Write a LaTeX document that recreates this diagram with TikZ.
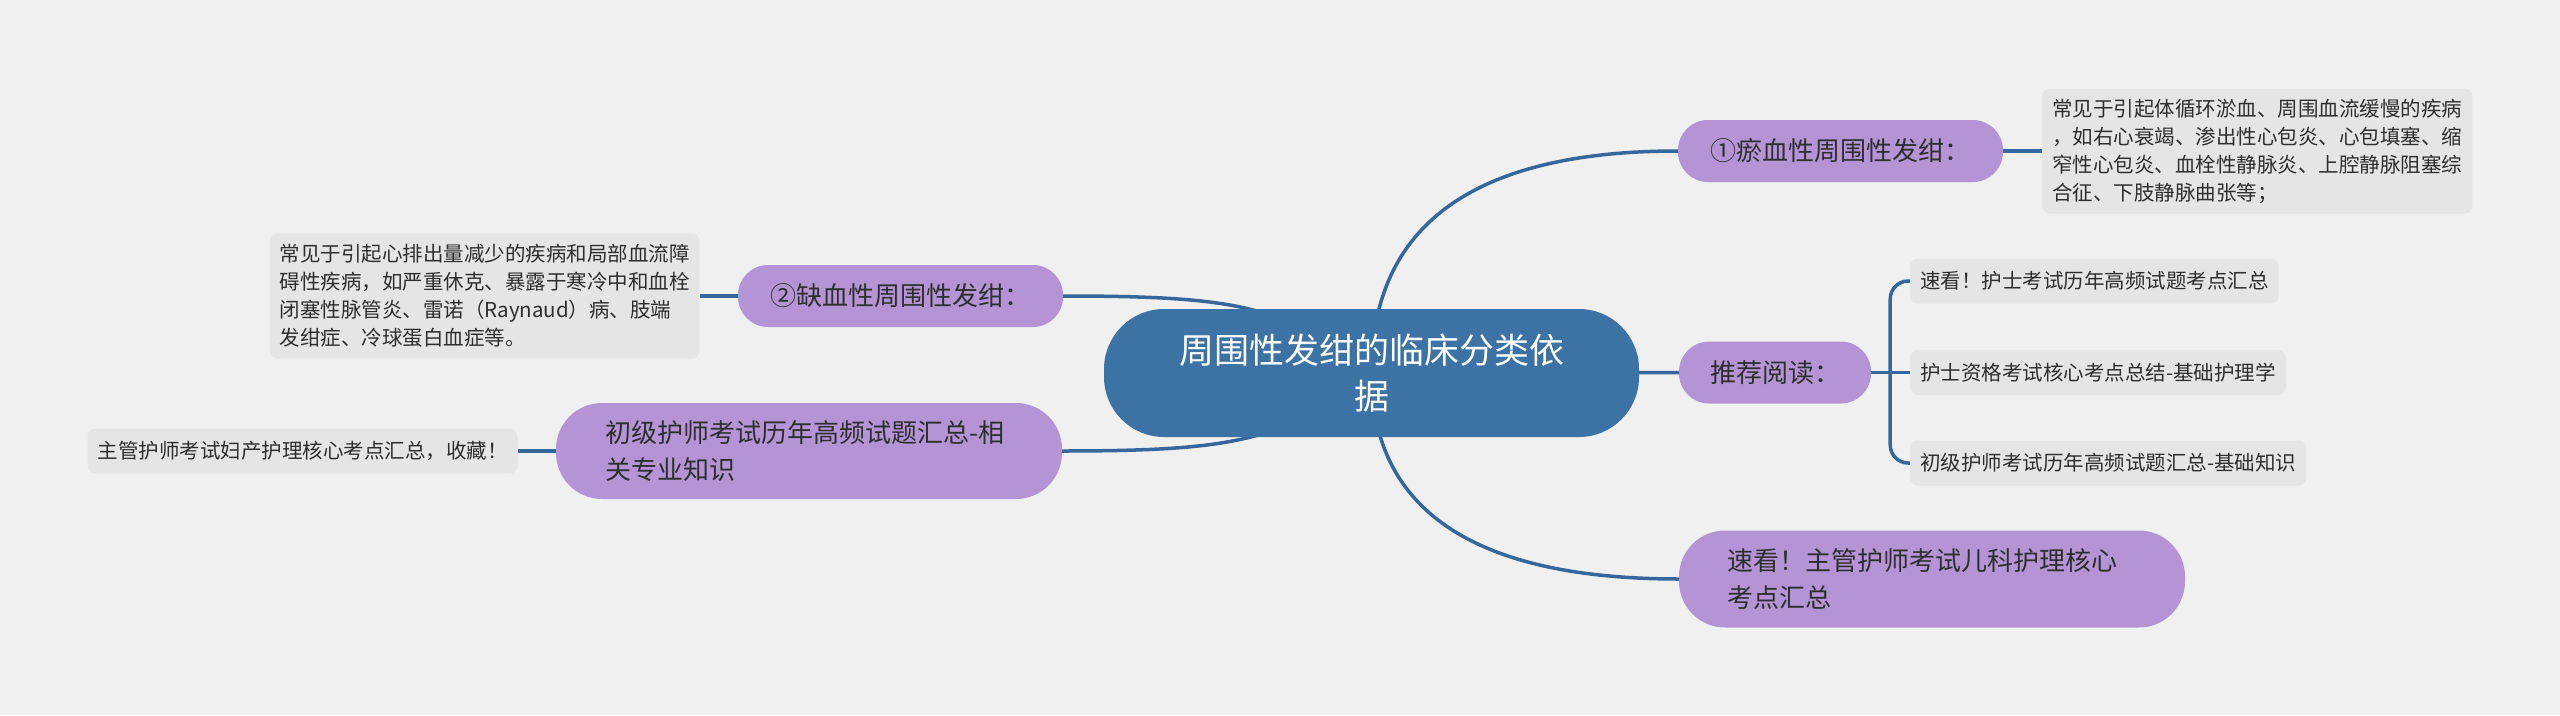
\documentclass[tikz,border=0pt]{standalone}
\usepackage{fontspec}
\setmainfont{Noto Sans CJK SC}
\usetikzlibrary{positioning,backgrounds}
\definecolor{bgcol}{HTML}{F0F0F0}
\definecolor{mainblue}{HTML}{3D72A4}
\definecolor{linecol}{HTML}{36679A}
\definecolor{topicpurple}{HTML}{B594D6}
\definecolor{leafgray}{HTML}{E5E5E5}
\definecolor{txtcol}{HTML}{2E2E2E}

\begin{document}
\begin{tikzpicture}[x=1pt,y=-1pt,node distance=38pt,
    every node/.style={text=txtcol},
    root/.style={fill=mainblue,text=white,rounded corners=60pt,align=center,
      minimum width=535pt,minimum height=128pt,font=\fontsize{35}{46}\selectfont},
    topic/.style={fill=topicpurple,rounded corners=30pt,minimum height=62pt,
      font=\fontsize{26}{37}\selectfont},
    bigtopic/.style={topic,rounded corners=46pt,align=left,minimum width=506pt},
    leaf/.style={fill=leafgray,rounded corners=8pt,inner xsep=10pt,inner ysep=9pt,
      minimum height=45pt,align=left,font=\fontsize{20.5}{28}\selectfont},
    branch/.style={draw=linecol,line width=3.5pt}]
  \useasboundingbox (0,0) rectangle (2560,715);

  \node[root] (main) at (1371.5,373) {周围性发绀的临床分类依\\据};

  \node[topic,minimum width=325pt] (c1) at (1840.5,151) {①瘀血性周围性发绀：};
  \node[leaf,minimum height=125pt,right=39pt of c1] (r0)
    {常见于引起体循环淤血、周围血流缓慢的疾病\\，如右心衰竭、渗出性心包炎、心包填塞、缩\\窄性心包炎、血栓性静脉炎、上腔静脉阻塞综\\合征、下肢静脉曲张等；};

  \node[topic,minimum width=192pt] (tj) at (1775,372.5) {推荐阅读：};
  \coordinate[right=19pt of tj] (fork);
  \node[leaf,anchor=west] (r1) at (1910,281) {速看！护士考试历年高频试题考点汇总};
  \node[leaf,anchor=west] (r2) at (1910,372.5) {护士资格考试核心考点总结-基础护理学};
  \node[leaf,anchor=west] (r3) at (1910,463) {初级护师考试历年高频试题汇总-基础知识};

  \node[bigtopic,text width=410pt,minimum height=97pt] (c5) at (1932,579)
    {速看！主管护师考试儿科护理核心\\考点汇总};

  \node[topic,minimum width=325pt] (c2) at (900.5,296) {②缺血性周围性发绀：};
  \node[leaf,minimum height=125pt,left=38pt of c2] (l2)
    {常见于引起心排出量减少的疾病和局部血流障\\碍性疾病，如严重休克、暴露于寒冷中和血栓\\闭塞性脉管炎、雷诺（Raynaud）病、肢端\\发绀症、冷球蛋白血症等。};

  \node[bigtopic,text width=408pt,minimum height=96pt] (c4) at (809,451)
    {初级护师考试历年高频试题汇总-相\\关专业知识};
  \node[leaf,left=38pt of c4] (l4) {主管护师考试妇产护理核心考点汇总，收藏！};

  \begin{scope}[on background layer]
    \fill[bgcol] (0,0) rectangle (2560,715);
    \draw[branch] (main.center) .. controls +(0,-148) and +(-204,0) .. (c1.west);
    \draw[branch] (main.center) .. controls +(0,137) and +(-205,0) .. (c5.west);
    \draw[branch] (main.center) -- (tj.west);
    \draw[branch] (c2.east) .. controls +(190,0) and +(-90,-64) .. (main.center);
    \draw[branch] (c4.east) .. controls +(190,0) and +(-90,64) .. (main.center);
    \draw[branch] (c1) -- (r0);
    \draw[branch] (c2) -- (l2);
    \draw[branch] (c4) -- (l4);
    \draw[branch] (tj.east) -- (r2.west);
    \draw[branch,rounded corners=18pt] (fork) |- (r1.west);
    \draw[branch,rounded corners=18pt] (fork) |- (r3.west);
  \end{scope}
\end{tikzpicture}
\end{document}
